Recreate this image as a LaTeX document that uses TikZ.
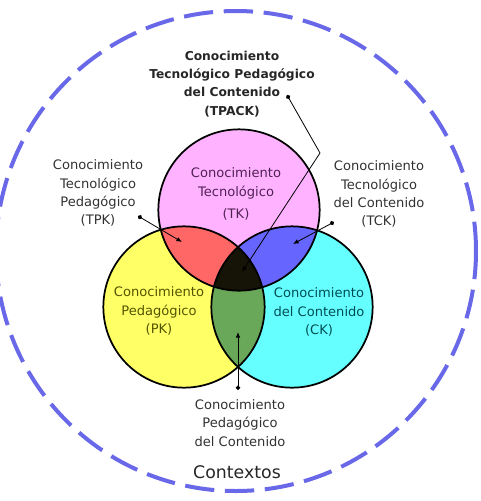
\documentclass[tikz,border=0pt]{standalone}
\usepackage{fontspec}
\setmainfont{DejaVu Sans}
\usepackage{xcolor}
\usetikzlibrary{arrows.meta, positioning}

\definecolor{tkpink}{RGB}{255,178,255}
\definecolor{pkyellow}{RGB}{255,255,102}
\definecolor{ckcyan}{RGB}{102,255,255}
\definecolor{tpkred}{RGB}{255,102,102}
\definecolor{tckblue}{RGB}{102,102,255}
\definecolor{pckgreen}{RGB}{104,168,88}
\definecolor{tpackdark}{RGB}{22,20,6}
\definecolor{ctxblue}{RGB}{104,104,232}
\definecolor{tktext}{RGB}{80,34,84}
\definecolor{pktext}{RGB}{84,84,0}
\definecolor{cktext}{RGB}{0,78,84}
\definecolor{lblgray}{RGB}{50,50,50}

\tikzset{
  lbl/.style={align=center, font=\fontsize{9.8}{13.6}\selectfont, text=lblgray},
  ring/.style={draw=black, line width=1.3pt},
  ptr/.style={line width=0.6pt, {Circle[length=3.4pt]}-{Latex[length=4.2pt,width=3.4pt]}},
}

\begin{document}
\begin{tikzpicture}[x=0.75pt, y=-0.75pt]
\useasboundingbox (0,0) rectangle (481,501);
\def\rad{60.5pt}
% centres of the three circles and the context ring
\coordinate (tkc) at (239,210);
\coordinate (pkc) at (184,307);
\coordinate (ckc) at (292,307);
\coordinate (ctxc) at (236,251);

% plain fills
\fill[tkpink] (tkc) circle[radius=\rad];
\fill[pkyellow] (pkc) circle[radius=\rad];
\fill[ckcyan] (ckc) circle[radius=\rad];
% overlaps
\begin{scope}
  \clip (pkc) circle[radius=\rad];
  \fill[pckgreen] (ckc) circle[radius=\rad];
\end{scope}
\begin{scope}
  \clip (tkc) circle[radius=\rad];
  \fill[tpkred] (pkc) circle[radius=\rad];
  \fill[tckblue] (ckc) circle[radius=\rad];
  \clip (pkc) circle[radius=\rad];
  \fill[tpackdark] (ckc) circle[radius=\rad];
\end{scope}
\draw[ring] (tkc) circle[radius=\rad];
\draw[ring] (pkc) circle[radius=\rad];
\draw[ring] (ckc) circle[radius=\rad];

% context ring
\draw[ctxblue, line width=3pt, dash pattern=on 22pt off 8pt] (ctxc) circle[radius=180pt];

% labels
\node[lbl, font=\bfseries\fontsize{9.2}{13.6}\selectfont, text=black!85] (tpack) at (232,84)
  {Conocimiento\\Tecnológico Pedagógico\\del Contenido\\(TPACK)};
\node[lbl, text=tktext] (tk) at (236,194) {Conocimiento\\Tecnológico\\[3pt](TK)};
\node[lbl] (tpk) at (98,193) {Conocimiento\\Tecnológico\\Pedagógico\\(TPK)};
\node[lbl] (tck) at (379,194) {Conocimiento\\Tecnológico\\del Contenido\\(TCK)};
\node[lbl, text=pktext] (pk) at (159,311) {Conocimiento\\Pedagógico\\(PK)};
\node[lbl, text=cktext] (ck) at (319,312) {Conocimiento\\del Contenido\\(CK)};
\node[lbl] (pck) at (240,423) {Conocimiento\\Pedagógico\\del Contenido};
\node[font=\fontsize{13}{15}\selectfont, text=black!85] (ctx) at (237,472) {Contextos};

% pointers
\coordinate (tpkdot) at (138,216);
\coordinate (tpktip) at (182,242);
\coordinate (tckdot) at (334,222);
\coordinate (tcktip) at (293,244);
\coordinate (tpackdot) at (287,95);
\coordinate (tpackbend) at (320,153);
\coordinate (tpacktip) at (242,272);
\coordinate (pckdot) at (238,390);
\coordinate (pcktip) at (238,332);
\draw[ptr] (tpkdot) -- (tpktip);
\draw[ptr] (tckdot) -- (tcktip);
\draw[ptr] (tpackdot) -- (tpackbend) -- (tpacktip);
\draw[ptr] (pckdot) -- (pcktip);
\end{tikzpicture}
\end{document}
